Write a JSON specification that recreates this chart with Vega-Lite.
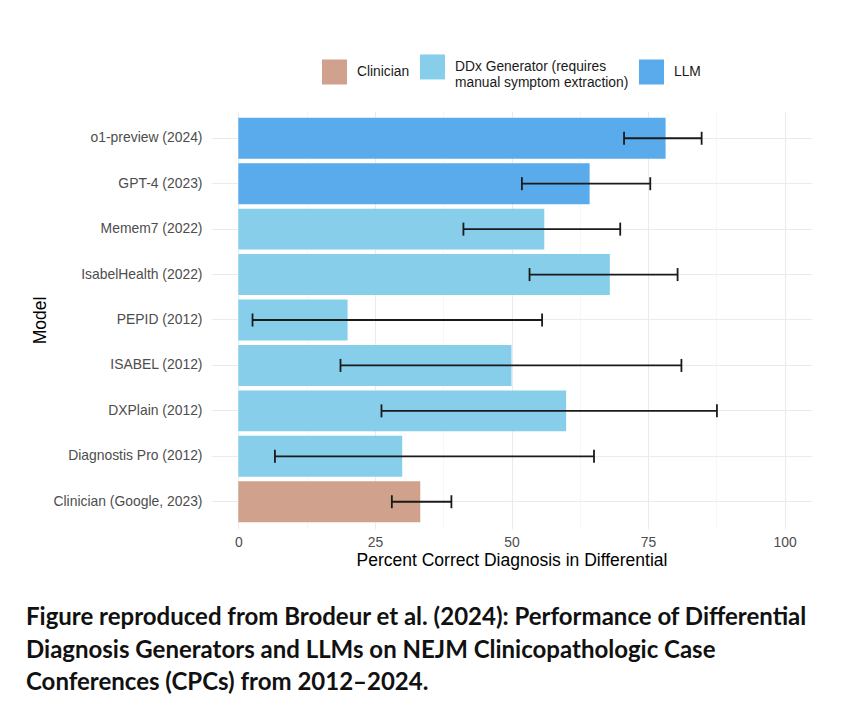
{
  "$schema": "https://vega.github.io/schema/vega-lite/v6.json",
  "width": 601,
  "height": 418,
  "autosize": "none",
  "padding": {"left": 211, "top": 111, "right": 33, "bottom": 189},
  "background": "white",
  "config": {
    "font": "Liberation Sans",
    "view": {"stroke": null}
  },
  "title": {
    "text": ["Figure reproduced from Brodeur et al. (2024): Performance of Differential", "Diagnosis Generators and LLMs on NEJM Clinicopathologic Case", "Conferences (CPCs) from 2012–2024."],
    "orient": "bottom",
    "anchor": "start",
    "frame": "group",
    "font": "Lato",
    "fontWeight": "bold",
    "fontSize": 24,
    "lineHeight": 32.5,
    "color": "#111111",
    "dx": -185,
    "offset": 37
  },
  "data": {
    "values": [
      {"model": "o1-preview (2024)", "type": "LLM", "pct": 78.2, "lo": 70.6, "hi": 84.8},
      {"model": "GPT-4 (2023)", "type": "LLM", "pct": 64.3, "lo": 51.9, "hi": 75.4},
      {"model": "Memem7 (2022)", "type": "DDx Generator (requires manual symptom extraction)", "pct": 56.0, "lo": 41.2, "hi": 69.9},
      {"model": "IsabelHealth (2022)", "type": "DDx Generator (requires manual symptom extraction)", "pct": 68.0, "lo": 53.3, "hi": 80.4},
      {"model": "PEPID (2012)", "type": "DDx Generator (requires manual symptom extraction)", "pct": 20.0, "lo": 2.6, "hi": 55.6},
      {"model": "ISABEL (2012)", "type": "DDx Generator (requires manual symptom extraction)", "pct": 50.0, "lo": 18.7, "hi": 81.1},
      {"model": "DXPlain (2012)", "type": "DDx Generator (requires manual symptom extraction)", "pct": 60.0, "lo": 26.2, "hi": 87.6},
      {"model": "Diagnostis Pro (2012)", "type": "DDx Generator (requires manual symptom extraction)", "pct": 30.0, "lo": 6.7, "hi": 65.1},
      {"model": "Clinician (Google, 2023)", "type": "Clinician", "pct": 33.3, "lo": 28.1, "hi": 39.0}
    ]
  },
  "encoding": {
    "y": {
      "field": "model",
      "type": "nominal",
      "scale": {
        "domain": ["o1-preview (2024)", "GPT-4 (2023)", "Memem7 (2022)", "IsabelHealth (2022)", "PEPID (2012)", "ISABEL (2012)", "DXPlain (2012)", "Diagnostis Pro (2012)", "Clinician (Google, 2023)"],
        "paddingInner": 0.1,
        "paddingOuter": 0.15
      },
      "axis": {
        "title": "Model",
        "titleFontSize": 17.5,
        "titleFontWeight": "normal",
        "titleColor": "#000000",
        "titlePadding": 3,
        "labelFontSize": 13.9,
        "labelColor": "#4d4d4d",
        "labelPadding": 9,
        "labelLimit": 300,
        "domain": false,
        "ticks": false,
        "grid": true,
        "bandPosition": 0.5,
        "gridColor": "#ebebeb",
        "gridWidth": 1.1
      }
    }
  },
  "layer": [
    {
      "mark": {"type": "bar"},
      "encoding": {
        "x": {
          "field": "pct",
          "type": "quantitative",
          "scale": {"domain": [-5, 105], "nice": false, "zero": false},
          "axis": {
            "title": "Percent Correct Diagnosis in Differential",
            "titleFontSize": 17.5,
            "titleFontWeight": "normal",
            "titleColor": "#000000",
            "titlePadding": 3,
            "values": [0, 12.5, 25, 37.5, 50, 62.5, 75, 87.5, 100],
            "labelExpr": "datum.value % 25 == 0 ? datum.label : ''",
            "labelFontSize": 13.9,
            "labelColor": "#4d4d4d",
            "labelPadding": 6,
            "domain": false,
            "ticks": false,
            "grid": true,
            "gridColor": {"condition": {"test": "datum.value % 25 != 0", "value": "#f2f2f2"}, "value": "#ebebeb"},
            "gridWidth": {"condition": {"test": "datum.value % 25 != 0", "value": 0.6}, "value": 1.1}
          }
        },
        "x2": {"datum": 0},
        "color": {
          "field": "type",
          "type": "nominal",
          "scale": {
            "domain": ["Clinician", "DDx Generator (requires manual symptom extraction)", "LLM"],
            "range": ["#D0A18C", "#87CEEB", "#5AABEC"]
          },
          "legend": {
            "title": null,
            "orient": "none",
            "direction": "horizontal",
            "legendX": 111,
            "legendY": -57,
            "symbolType": "square",
            "symbolSize": 625,
            "symbolStrokeWidth": 0,
            "symbolOpacity": 1,
            "labelFontSize": 13.8,
            "labelColor": "#1a1a1a",
            "labelOffset": 10,
            "labelLimit": 300,
            "columnPadding": 10,
            "labelExpr": "datum.label == 'DDx Generator (requires manual symptom extraction)' ? ['DDx Generator (requires', 'manual symptom extraction)'] : datum.label"
          }
        }
      }
    },
    {
      "mark": {"type": "rule", "color": "#1a1a1a", "strokeWidth": 1.8},
      "encoding": {
        "x": {"field": "lo", "type": "quantitative"},
        "x2": {"field": "hi"}
      }
    },
    {
      "mark": {"type": "tick", "color": "#1a1a1a", "thickness": 1.8, "size": 13, "opacity": 1},
      "encoding": {
        "x": {"field": "lo", "type": "quantitative"}
      }
    },
    {
      "mark": {"type": "tick", "color": "#1a1a1a", "thickness": 1.8, "size": 13, "opacity": 1},
      "encoding": {
        "x": {"field": "hi", "type": "quantitative"}
      }
    }
  ]
}
